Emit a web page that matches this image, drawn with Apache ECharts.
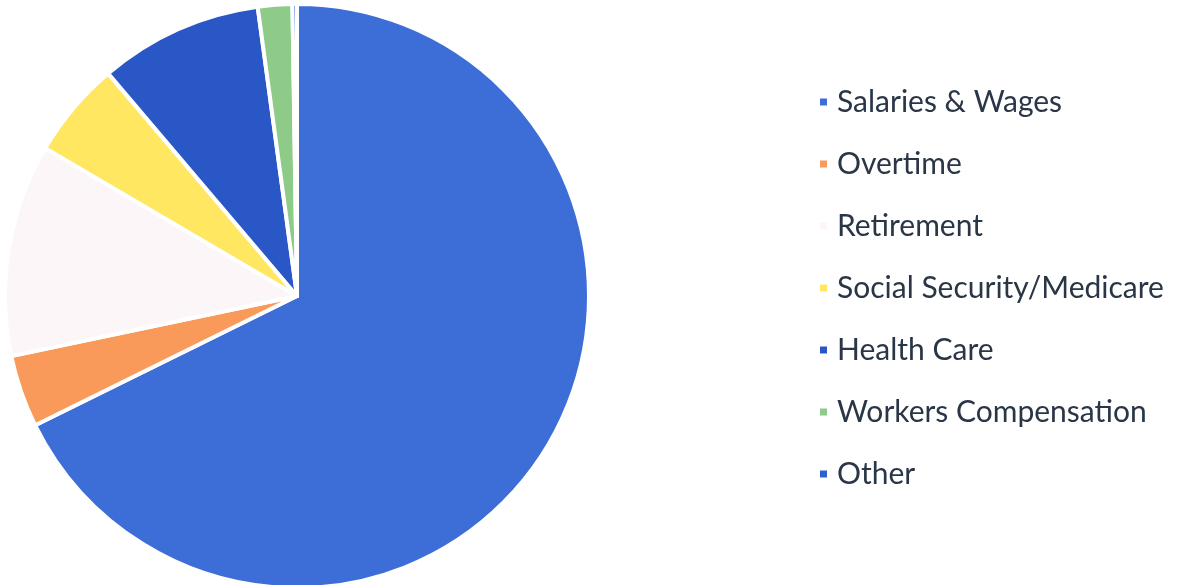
<!DOCTYPE html>
<html>
<head>
<meta charset="utf-8">
<script src="https://cdn.jsdelivr.net/npm/echarts@6/dist/echarts.min.js"></script>
<style>
  html, body { margin: 0; padding: 0; background: #ffffff; }
  #chart { width: 1186px; height: 585px; }
</style>
</head>
<body>
<div id="chart"></div>
<script>
const categories = ["Salaries & Wages", "Overtime", "Retirement", "Social Security/Medicare", "Health Care", "Workers Compensation", "Other"];
const values = [67.7, 4.0, 11.75, 5.35, 9.05, 1.9, 0.25];
const colors = ["#3D6DD6", "#F99A5A", "#FDF6F8", "#FFE762", "#2A57C6", "#8ECB88", "#2F60CF"];

const chart = echarts.init(document.getElementById('chart'), null, { renderer: 'canvas' });
chart.setOption({
  backgroundColor: '#ffffff',
  animation: false,
  legend: {
    orient: 'vertical',
    left: 813,
    top: 81,
    itemWidth: 9,
    itemHeight: 9,
    itemGap: 30,
    icon: 'rect',
    selectedMode: false,
    data: categories,
    textStyle: {
      fontFamily: 'Lato',
      fontSize: 30,
      color: '#2A3646',
      lineHeight: 32,
      padding: [0, 0, 0, 4]
    }
  },
  series: [{
    type: 'pie',
    center: [297, 296],
    radius: 292,
    startAngle: 90,
    clockwise: true,
    avoidLabelOverlap: false,
    label: { show: false },
    labelLine: { show: false },
    emphasis: { disabled: true },
    itemStyle: { borderColor: '#ffffff', borderWidth: 4 },
    data: categories.map((name, i) => ({
      name: name,
      value: values[i],
      itemStyle: { color: colors[i] }
    }))
  }]
});
</script>
</body>
</html>
